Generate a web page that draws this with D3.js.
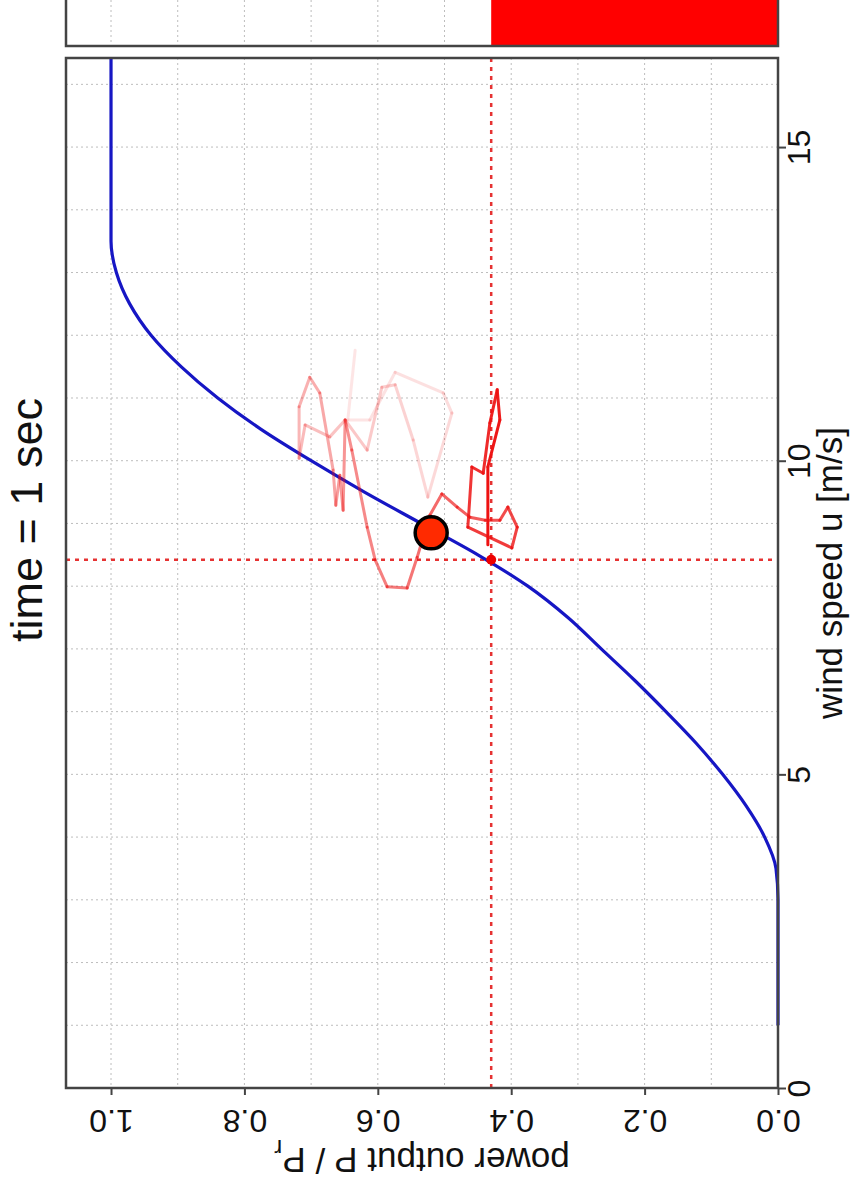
<!DOCTYPE html>
<html>
<head>
<meta charset="utf-8">
<script src="https://cdn.jsdelivr.net/npm/d3@7"></script>
<style>
  html, body { margin: 0; padding: 0; background: #fff; }
  svg { display: block; font-family: "Liberation Sans", Arial, sans-serif; }
</style>
</head>
<body>
<div id="chart"></div>
<script>
// wind speed axis (drawn vertically, the whole plot is turned on its side)
const windTicks = [0, 5, 10, 15];
const windGrid = [1, 2, 3, 4, 5, 6, 7, 8, 9, 10, 11, 12, 13, 14, 15, 16];
// power axis (drawn horizontally, labels upside down)
const powerTicks = [0, 0.2, 0.4, 0.6, 0.8, 1.0];
const powerGrid = [0.1, 0.2, 0.3, 0.4, 0.5, 0.6, 0.7, 0.8, 0.9, 1.0];

// power curve
const curveU = [1, 2, 3, 3.5, 4, 4.5, 5, 5.5, 6, 6.5, 7, 7.5, 8, 8.5, 9, 9.5, 10, 10.5, 11, 11.5, 12, 12.5, 13, 13.5, 14, 15, 16, 16.42];
const curveP = [0, 0, 0, 0.003, 0.02, 0.048, 0.083, 0.123, 0.168, 0.215, 0.265, 0.315, 0.375, 0.45, 0.535, 0.62, 0.70, 0.775, 0.84, 0.895, 0.94, 0.972, 0.992, 1.0, 1.0, 1.0, 1.0, 1.0];

// trajectory, oldest first
const trailU = [11.76, 10.65, 10.65, 11.41, 11.08, 10.76, 9.42, 10.33, 11.21, 11.17, 10.17, 10.65,
  10.38, 10.57, 10.04, 10.86, 11.33, 11.08, 9.85, 9.29, 9.77, 9.21, 10.65, 10.17, 8.94, 8.42, 7.99, 7.97,
  8.46, 9.13, 9.47, 9.26, 9.10, 9.05, 9.05, 9.26, 8.94, 8.61,
  8.94, 9.90, 9.80, 10.60, 11.13, 10.65, 9.90, 8.66];
const trailP = [0.634, 0.645, 0.612, 0.574, 0.502, 0.489, 0.525, 0.547, 0.574, 0.594, 0.616, 0.649,
  0.672, 0.709, 0.718, 0.718, 0.702, 0.687, 0.667, 0.663, 0.657, 0.652, 0.649, 0.639, 0.616, 0.604, 0.586, 0.556,
  0.541, 0.522, 0.504, 0.481, 0.462, 0.439, 0.417, 0.405, 0.391, 0.399,
  0.465, 0.459, 0.442, 0.432, 0.421, 0.417, 0.435, 0.435];

// current state
const meanU = 8.42, meanP = 0.43;
const pointU = 8.85, pointP = 0.52;
const titleText = 'time = 1 sec';

const width = 851, height = 1191;
const frame = { left: 66, right: 778, top: 58, bottom: 1088 };

const svg = d3.select('#chart').append('svg')
    .attr('width', width)
    .attr('height', height);

svg.append('rect').attr('width', width).attr('height', height).attr('fill', '#fff');

const pScale = d3.scaleLinear().domain([0, 1.0675]).range([frame.right, frame.left]);
const uScale = d3.scaleLinear().domain([0, 16.42]).range([frame.bottom, frame.top]);

// top panel: power bar
const barPanel = svg.append('g');
barPanel.selectAll('line.grid')
    .data(powerGrid)
    .enter().append('line')
    .attr('x1', d => pScale(d)).attr('x2', d => pScale(d))
    .attr('y1', 0).attr('y2', 46)
    .attr('stroke', '#bdbdbd').attr('stroke-dasharray', '2,3');
barPanel.append('rect')
    .attr('x', pScale(meanP)).attr('y', -10)
    .attr('width', pScale(0) - pScale(meanP)).attr('height', 56)
    .attr('fill', '#ff0000');
barPanel.append('rect')
    .attr('x', frame.left).attr('y', -10)
    .attr('width', frame.right - frame.left).attr('height', 56)
    .attr('fill', 'none').attr('stroke', '#444').attr('stroke-width', 2.5);

// main panel grid
const g = svg.append('g');
g.selectAll('line.hgrid')
    .data(windGrid)
    .enter().append('line')
    .attr('x1', frame.left).attr('x2', frame.right)
    .attr('y1', d => uScale(d)).attr('y2', d => uScale(d))
    .attr('stroke', '#bdbdbd').attr('stroke-dasharray', '2,3');
g.selectAll('line.vgrid')
    .data(powerGrid)
    .enter().append('line')
    .attr('x1', d => pScale(d)).attr('x2', d => pScale(d))
    .attr('y1', frame.top).attr('y2', frame.bottom)
    .attr('stroke', '#bdbdbd').attr('stroke-dasharray', '2,3');

// crosshair
g.append('line')
    .attr('x1', pScale(meanP)).attr('x2', pScale(meanP))
    .attr('y1', frame.top).attr('y2', frame.bottom)
    .attr('stroke', '#e00000').attr('stroke-width', 2.5)
    .attr('stroke-dasharray', '4,5').attr('opacity', 0.8);
g.append('line')
    .attr('x1', frame.left).attr('x2', frame.right)
    .attr('y1', uScale(meanU)).attr('y2', uScale(meanU))
    .attr('stroke', '#e00000').attr('stroke-width', 2.5)
    .attr('stroke-dasharray', '4,5').attr('opacity', 0.8);

// power curve
const curveData = curveU.map((u, i) => ({ u: u, p: curveP[i] }));
const line = d3.line()
    .x(d => pScale(d.p))
    .y(d => uScale(d.u))
    .curve(d3.curveMonotoneY);
g.append('path')
    .datum(curveData)
    .attr('d', line)
    .attr('fill', 'none')
    .attr('stroke', '#1616c4')
    .attr('stroke-width', 3.2);

// trajectory, fading with age
const trail = trailU.map((u, i) => ({ u: u, p: trailP[i] }));
const segs = d3.pairs(trail);
const alpha = d3.scalePow().exponent(1.3).domain([0, segs.length - 1]).range([0.1, 1]);
g.selectAll('line.trail')
    .data(segs)
    .enter().append('line')
    .attr('x1', d => pScale(d[0].p)).attr('y1', d => uScale(d[0].u))
    .attr('x2', d => pScale(d[1].p)).attr('y2', d => uScale(d[1].u))
    .attr('stroke', '#ee1111')
    .attr('stroke-width', 3)
    .attr('stroke-linecap', 'round')
    .attr('opacity', (d, i) => alpha(i));

g.append('circle')
    .attr('cx', pScale(meanP)).attr('cy', uScale(meanU))
    .attr('r', 5).attr('fill', '#ee0000');

g.append('circle')
    .attr('cx', pScale(pointP)).attr('cy', uScale(pointU))
    .attr('r', 16).attr('fill', '#ff2a00')
    .attr('stroke', '#000').attr('stroke-width', 3.5);

// frame
g.append('rect')
    .attr('x', frame.left).attr('y', frame.top)
    .attr('width', frame.right - frame.left).attr('height', frame.bottom - frame.top)
    .attr('fill', 'none').attr('stroke', '#444').attr('stroke-width', 2.5);

// wind speed axis on the right
const uAxis = d3.axisRight(uScale).tickValues(windTicks).tickSize(8).tickFormat(d3.format('d'));
const ua = svg.append('g')
    .attr('transform', `translate(${frame.right},0)`)
    .call(uAxis);
ua.select('.domain').remove();
ua.selectAll('.tick line').attr('stroke', '#444').attr('stroke-width', 2);
ua.selectAll('.tick text')
    .attr('x', 0).attr('dy', null)
    .attr('transform', 'translate(32,0) rotate(-90)')
    .attr('text-anchor', 'middle')
    .attr('font-size', 32)
    .attr('fill', '#111');

// power axis at the bottom
const pAxis = d3.axisBottom(pScale).tickValues(powerTicks).tickSize(7).tickFormat(d3.format('.1f'));
const pa = svg.append('g')
    .attr('transform', `translate(0,${frame.bottom})`)
    .call(pAxis);
pa.select('.domain').remove();
pa.selectAll('.tick line').attr('stroke', '#444').attr('stroke-width', 2);
pa.selectAll('.tick text')
    .attr('y', 0).attr('dy', null)
    .attr('transform', 'translate(0,22) rotate(180)')
    .attr('text-anchor', 'middle')
    .attr('font-size', 32)
    .attr('fill', '#111');

// axis titles
svg.append('text')
    .attr('transform', `translate(842,${(frame.top + frame.bottom) / 2}) rotate(-90)`)
    .attr('text-anchor', 'middle')
    .attr('font-size', 35)
    .attr('fill', '#111')
    .text('wind speed u [m/s]');

const pl = svg.append('text')
    .attr('transform', `translate(${(frame.left + frame.right) / 2},1148) rotate(180)`)
    .attr('text-anchor', 'middle')
    .attr('font-size', 35)
    .attr('fill', '#111');
pl.append('tspan').text('power output P / P');
pl.append('tspan').attr('font-size', 24).attr('dy', 8).text('r');

svg.append('text')
    .attr('transform', 'translate(42,520) rotate(-90)')
    .attr('text-anchor', 'middle')
    .attr('font-size', 45)
    .attr('fill', '#111')
    .text(titleText);
</script>
</body>
</html>
